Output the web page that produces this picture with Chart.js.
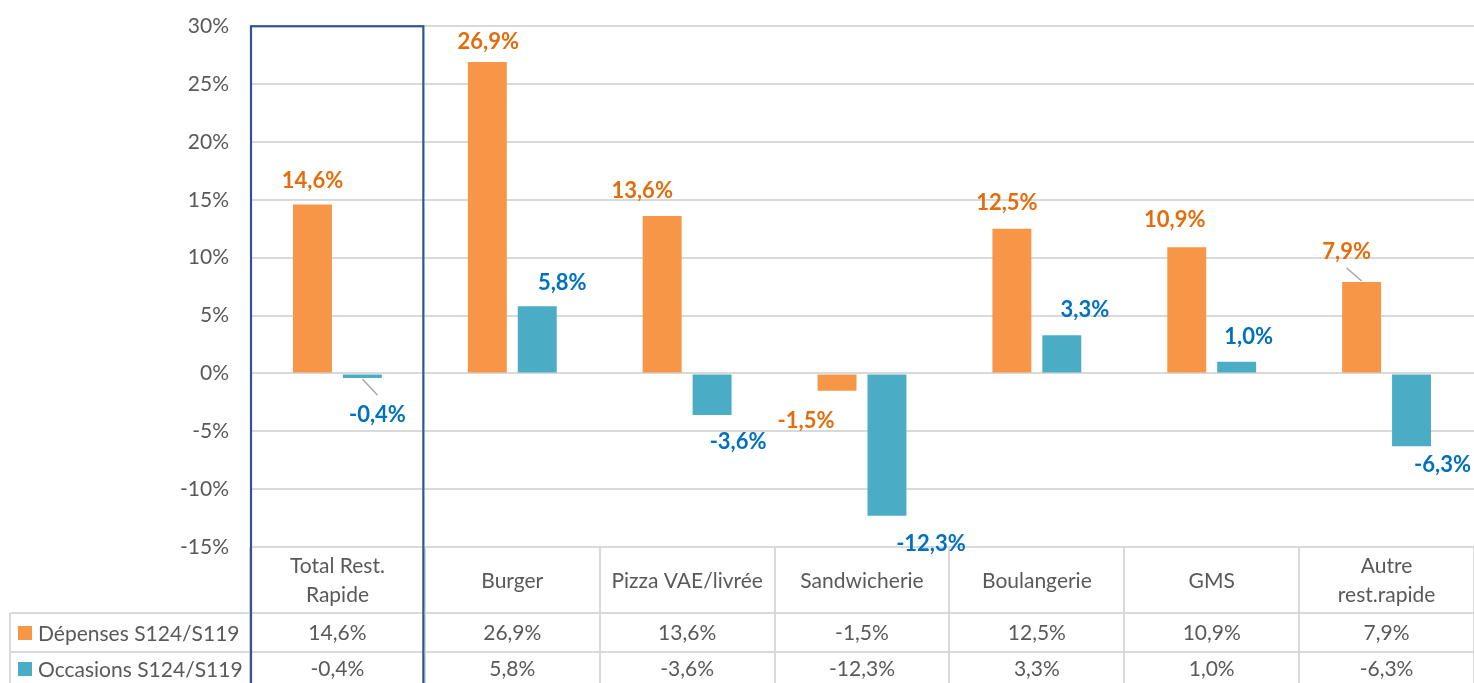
<!DOCTYPE html>
<html>
<head>
<meta charset="utf-8">
<script src="https://cdn.jsdelivr.net/npm/chart.js@4"></script>
<style>
  body { margin: 0; background: #fff; }
</style>
</head>
<body>
<canvas id="chart" width="1474" height="683"></canvas>
<script>
// data
const categories = [["Total Rest.", "Rapide"], "Burger", "Pizza VAE/livrée", "Sandwicherie", "Boulangerie", "GMS", ["Autre", "rest.rapide"]];
const seriesNames = ["Dépenses S124/S119", "Occasions S124/S119"];
const depenses = [14.6, 26.9, 13.6, -1.5, 12.5, 10.9, 7.9];
const occasions = [-0.4, 5.8, -3.6, -12.3, 3.3, 1.0, -6.3];
const yMin = -15, yMax = 30, yStep = 5;

// look
const barColors = ['#F79646', '#4BACC6'];
const labelColors = ['#E46C0A', '#0070C0'];
const textColor = '#595959';
const lineColor = '#D9D9D9';
const font = 'Lato';

// label nudges (px, relative to bar end) as in the original layout
const labelNudge = [
  [[0, -24], [1, -20], [-20, -25], [-31, 30], [-5, -26], [-12, -27], [-15, -30]],
  [[15, 37], [25, -23], [26, 27], [44, 28], [23, -25], [12, -25], [31, 19]]
];
const leaders = [{ ds: 1, i: 0 }, { ds: 0, i: 6 }];

const fmt = v => v.toFixed(1).replace('.', ',') + '%';

const tablePlugin = {
  id: 'dataTable',
  afterDraw(chart) {
    const ctx = chart.ctx;
    const area = chart.chartArea;
    const xs = chart.scales.x;
    const n = categories.length;
    const w = (area.right - area.left) / n;
    const top = area.bottom, r1 = 613, r2 = 652, bottom = chart.height + 2;
    const x0 = 10;

    ctx.save();
    ctx.strokeStyle = lineColor;
    ctx.lineWidth = 2;
    ctx.beginPath();
    ctx.moveTo(area.left, top); ctx.lineTo(area.right, top);
    ctx.moveTo(x0, r1); ctx.lineTo(area.right, r1);
    ctx.moveTo(x0, r2); ctx.lineTo(area.right, r2);
    ctx.moveTo(x0, r1); ctx.lineTo(x0, bottom);
    for (let k = 0; k <= n; k++) {
      const x = Math.round(area.left + k * w);
      ctx.moveTo(x, top); ctx.lineTo(x, bottom);
    }
    ctx.stroke();

    ctx.fillStyle = textColor;
    ctx.font = '21px ' + font;
    ctx.textAlign = 'center';
    ctx.textBaseline = 'middle';
    categories.forEach((c, i) => {
      const cx = xs.getPixelForValue(i);
      if (Array.isArray(c)) {
        ctx.fillText(c[0], cx, 566);
        ctx.fillText(c[1], cx, 595);
      } else {
        ctx.fillText(c, cx, 581);
      }
      ctx.fillText(fmt(depenses[i]), cx, 633);
      ctx.fillText(fmt(occasions[i]), cx, 669);
    });

    // legend keys in the table
    ctx.textAlign = 'left';
    [r1, r2].forEach((ry, d) => {
      const cy = ry + (d === 0 ? 20 : 17);
      ctx.fillStyle = barColors[d];
      ctx.fillRect(18, cy - 7, 14, 14);
      ctx.fillStyle = textColor;
      ctx.fillText(seriesNames[d], 38, cy + 1);
    });

    // highlight box around the first category
    ctx.strokeStyle = '#2F5597';
    ctx.lineWidth = 2.2;
    ctx.strokeRect(area.left + 1, area.top, w - 2.5, bottom - area.top + 5);
    ctx.restore();
  }
};

const labelsPlugin = {
  id: 'barLabels',
  afterDraw(chart) {
    const ctx = chart.ctx;
    ctx.save();
    // leader lines
    ctx.strokeStyle = '#A6A6A6';
    ctx.lineWidth = 1.5;
    leaders.forEach(({ ds, i }) => {
      const el = chart.getDatasetMeta(ds).data[i];
      const [dx, dy] = labelNudge[ds][i];
      const lx = el.x + dx, ly = el.y + dy;
      ctx.beginPath();
      if (dy > 0) {
        ctx.moveTo(el.x, el.y + 1);
        ctx.lineTo(lx, ly - 20);
      } else {
        ctx.moveTo(lx, ly + 16);
        ctx.lineTo(el.x, el.y - 1);
      }
      ctx.stroke();
    });
    ctx.font = 'bold 22px ' + font;
    ctx.textAlign = 'center';
    ctx.textBaseline = 'middle';
    chart.data.datasets.forEach((ds, d) => {
      const meta = chart.getDatasetMeta(d);
      meta.data.forEach((el, i) => {
        const [dx, dy] = labelNudge[d][i];
        ctx.fillStyle = labelColors[d];
        ctx.fillText(fmt(ds.data[i]), el.x + dx, el.y + dy);
      });
    });
    ctx.restore();
  }
};

new Chart(document.getElementById('chart'), {
  type: 'bar',
  data: {
    labels: categories,
    datasets: [
      { label: seriesNames[0], data: depenses, backgroundColor: barColors[0] },
      { label: seriesNames[1], data: occasions, backgroundColor: barColors[1] }
    ]
  },
  options: {
    responsive: false,
    animation: false,
    categoryPercentage: 0.571,
    barPercentage: 0.78,
    layout: { padding: { top: 20, bottom: 136, right: 0, left: 0 } },
    plugins: {
      legend: { display: false },
      tooltip: { enabled: false }
    },
    scales: {
      x: {
        display: false,
        grid: { display: false }
      },
      y: {
        min: yMin,
        max: yMax,
        afterFit(scale) { scale.width = 250; },
        ticks: {
          stepSize: yStep,
          color: textColor,
          // small lineHeight keeps the top label from pushing the plot down
          font: { family: font, size: 21, lineHeight: 0.5 },
          padding: 21,
          callback: v => v + '%'
        },
        grid: { color: lineColor, lineWidth: 2, drawTicks: false },
        border: { display: false }
      }
    }
  },
  plugins: [tablePlugin, labelsPlugin]
});
</script>
</body>
</html>
